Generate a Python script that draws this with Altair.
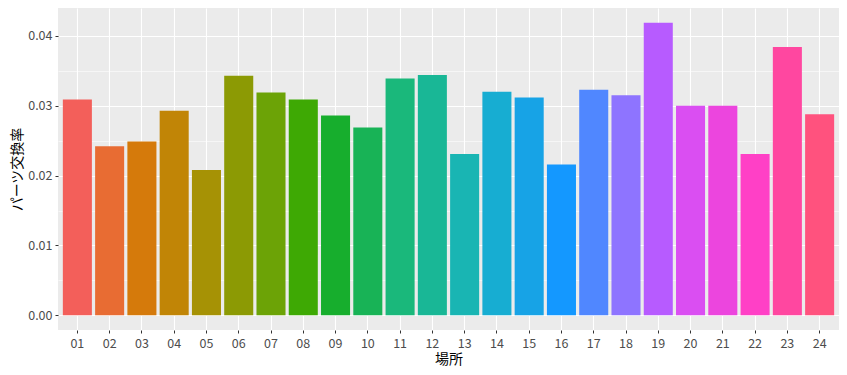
import altair as alt
import pandas as pd

places = ["01", "02", "03", "04", "05", "06", "07", "08", "09", "10", "11", "12",
          "13", "14", "15", "16", "17", "18", "19", "20", "21", "22", "23", "24"]
rates = [0.0309, 0.0242, 0.0249, 0.0293, 0.0208, 0.0343, 0.0319, 0.0309,
         0.0286, 0.0269, 0.0339, 0.0344, 0.0231, 0.0320, 0.0312, 0.0216,
         0.0323, 0.0315, 0.0419, 0.0300, 0.0300, 0.0231, 0.0384, 0.0288]
colors = ["#F35F5A", "#E86C33", "#D57A0B", "#C18506", "#A69205", "#8C9A04",
          "#6CA306", "#3EA904", "#17AE2D", "#18B356", "#1AB87B", "#19B796",
          "#19B5B3", "#17ADD2", "#17A3E6", "#1498FF", "#5087FF", "#8E74FF",
          "#B75BFF", "#DA4EF2", "#EC45DE", "#FF40C6", "#FF47A0", "#FF527E"]

df = pd.DataFrame({"場所": places, "パーツ交換率": rates})

font = "Noto Sans CJK JP"
minor = "round(datum.value*200)%2==1"

chart = alt.Chart(df).mark_bar().encode(
    x=alt.X("場所:N", sort=places,
            scale=alt.Scale(paddingInner=0.1, paddingOuter=0.15),
            axis=alt.Axis(labelAngle=0, grid=True, gridColor="white", gridWidth=1.1,
                          tickColor="#333333", tickSize=3, tickWidth=1, domain=False,
                          labelColor="#4D4D4D", labelFontSize=12.5, labelFont=font,
                          labelPadding=4, titleFont=font, titleFontSize=14,
                          titleFontWeight="normal", titleColor="black", titlePadding=3)),
    y=alt.Y("パーツ交換率:Q",
            scale=alt.Scale(domain=[-0.0021, 0.044], nice=False, zero=False),
            axis=alt.Axis(values=[0, 0.005, 0.01, 0.015, 0.02, 0.025, 0.03, 0.035, 0.04],
                          labelExpr=f"{minor} ? '' : format(datum.value, '.2f')",
                          grid=True, gridColor="white",
                          gridWidth={"condition": {"test": minor, "value": 0.55}, "value": 1.1},
                          tickOpacity={"condition": {"test": minor, "value": 0}, "value": 1},
                          tickColor="#333333", tickSize=3, tickWidth=1, domain=False,
                          labelColor="#4D4D4D", labelFontSize=12.5, labelFont=font,
                          labelPadding=3, titleFont=font, titleFontSize=14,
                          titleFontWeight="normal", titleColor="black", titlePadding=3)),
    color=alt.Color("場所:N", sort=places,
                    scale=alt.Scale(domain=places, range=colors), legend=None),
).properties(
    width=781, height=322,
    autosize=alt.AutoSizeParams(type="none"),
    padding={"left": 50, "top": 0, "right": 0, "bottom": 37},
).configure_view(fill="#EBEBEB", stroke=None)

chart.save("out.html", embed_options={"renderer": "svg", "actions": False})
